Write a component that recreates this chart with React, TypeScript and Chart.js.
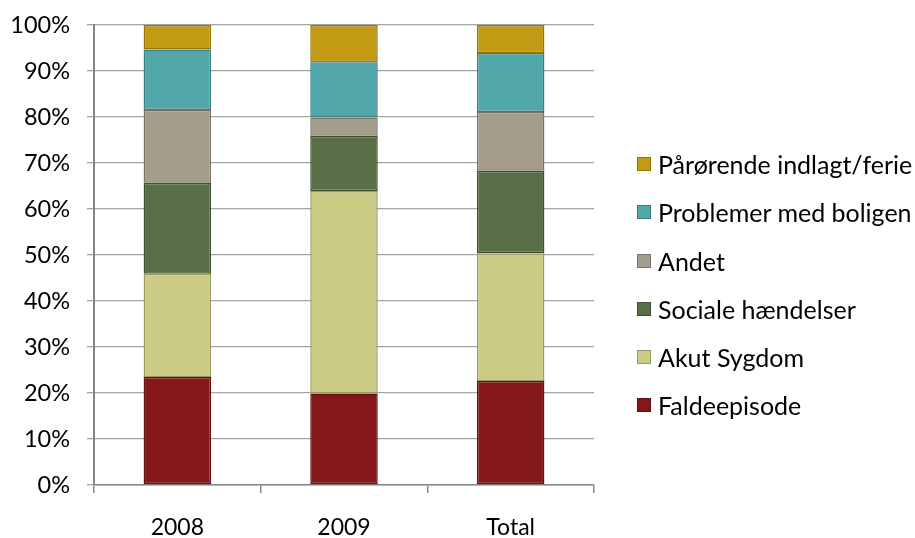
import React, { useEffect, useRef } from "react";
import { Chart, registerables } from "chart.js";

Chart.register(...registerables);

// ---- data ----
const categories = ["2008", "2009", "Total"];
const faldeepisode = [23.5, 19.9, 22.6];
const akutSygdom = [22.4, 44.0, 27.8];
const socialeHaendelser = [19.8, 12.0, 17.9];
const andet = [15.8, 4.0, 12.8];
const problemerMedBoligen = [13.2, 12.0, 12.8];
const paaroerende = [5.3, 8.1, 6.1];

const seriesLabels = [
  "Faldeepisode",
  "Akut Sygdom",
  "Sociale hændelser",
  "Andet",
  "Problemer med boligen",
  "Pårørende indlagt/ferie",
];
const seriesValues = [faldeepisode, akutSygdom, socialeHaendelser, andet, problemerMedBoligen, paaroerende];
const fillColors = ["#84171A", "#CCCB86", "#5A6F48", "#A49D8C", "#52A7AB", "#C39A14"];
const borderColors = ["#5E1012", "#9B9A5F", "#3F5031", "#7A7466", "#3A7E82", "#967609"];

const FONT = "Lato, 'Open Sans', sans-serif";

export default function App() {
  const canvasRef = useRef<HTMLCanvasElement | null>(null);

  useEffect(() => {
    const canvas = canvasRef.current;
    if (!canvas) return;
    const chart = new Chart(canvas, {
      type: "bar",
      data: {
        labels: categories,
        datasets: seriesLabels.map((label, i) => ({
          label,
          data: seriesValues[i],
          backgroundColor: fillColors[i],
          borderColor: borderColors[i],
          borderWidth: 1.5,
          borderSkipped: false,
          categoryPercentage: 1,
          barPercentage: 0.405,
        })),
      },
      options: {
        animation: false,
        responsive: false,
        maintainAspectRatio: false,
        layout: { padding: { top: 25, left: 0, right: 321, bottom: 0 } },
        plugins: {
          legend: { display: false },
          tooltip: { enabled: false },
        },
        scales: {
          x: {
            stacked: true,
            offset: true,
            grid: {
              drawOnChartArea: false,
              drawTicks: true,
              tickLength: 8,
              color: "#878787",
              lineWidth: 1.5,
              offset: true,
            },
            border: { color: "#878787", width: 1.5 },
            ticks: {
              color: "#000",
              padding: 21,
              font: { family: FONT, size: 23 },
            },
            afterFit: (s: any) => {
              s.height = 53;
              s.paddingLeft = 0;
              s.paddingRight = 0;
            },
          },
          y: {
            stacked: true,
            min: 0,
            max: 100,
            grid: {
              color: "#A3A3A3",
              lineWidth: 1.3,
              tickLength: 7,
            },
            border: { color: "#878787", width: 2 },
            ticks: {
              stepSize: 10,
              color: "#000",
              padding: 17,
              font: { family: FONT, size: 23.5 },
              callback: (v: any) => v + "%",
            },
            afterFit: (s: any) => {
              s.width = 94;
              s.paddingTop = 0;
              s.paddingBottom = 0;
            },
          },
        },
      },
    });
    return () => chart.destroy();
  }, []);

  const legendOrder = [5, 4, 3, 2, 1, 0];
  const legendCenters = [164, 212, 260.5, 309, 356.5, 404.5];

  return (
    <div style={{ position: "fixed", left: 0, top: 0, width: 915, height: 538, background: "#fff" }}>
      <canvas ref={canvasRef} width={915} height={538} style={{ position: "absolute", left: 0, top: 0, width: 915, height: 538 }} />
      {legendOrder.map((si, row) => (
        <div
          key={si}
          style={{
            position: "absolute",
            left: 637,
            top: legendCenters[row] - 15,
            height: 30,
            display: "flex",
            alignItems: "center",
            whiteSpace: "nowrap",
            fontFamily: FONT,
            fontSize: 25,
            color: "#000",
          }}
        >
          <span
            style={{
              display: "inline-block",
              width: 12,
              height: 12,
              background: fillColors[si],
              border: `1.5px solid ${borderColors[si]}`,
              marginRight: 7,
            }}
          />
          <span>{seriesLabels[si]}</span>
        </div>
      ))}
    </div>
  );
}
